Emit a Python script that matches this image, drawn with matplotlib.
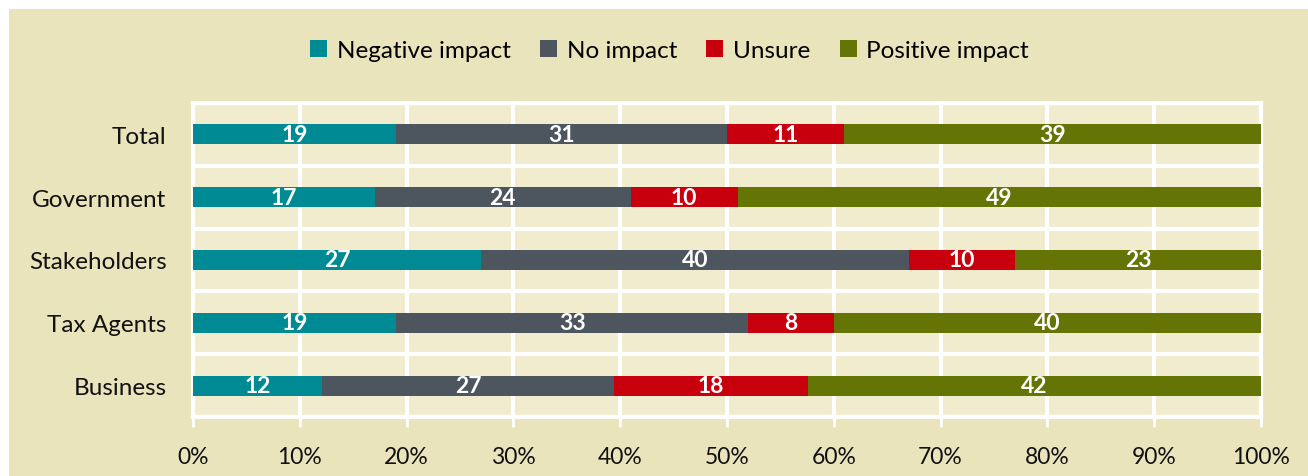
import numpy as np
import matplotlib.pyplot as plt
from matplotlib.patches import Rectangle

plt.rcParams['font.family'] = ['Lato', 'DejaVu Sans']

# === data ===
categories = ['Total', 'Government', 'Stakeholders', 'Tax Agents', 'Business']
series = ['Negative impact', 'No impact', 'Unsure', 'Positive impact']
negative = [19, 17, 27, 19, 12]
no_impact = [31, 24, 40, 33, 27]
unsure = [11, 10, 10, 8, 18]
positive = [39, 49, 23, 40, 42]
colors = ['#008B94', '#4D555E', '#C8000E', '#647405']
xticks = [0, 10, 20, 30, 40, 50, 60, 70, 80, 90, 100]

# === plot ===
fig = plt.figure(figsize=(13.08, 4.77), dpi=100, facecolor='white')
fig.patches.append(Rectangle((9 / 1308, 0), 1, 1 - 10 / 477, transform=fig.transFigure,
                             facecolor='#EAE4BD', edgecolor='none', zorder=-5))
ax = fig.add_axes([193 / 1308, 1 - 418 / 477, 1068 / 1308, 314 / 477])
ax.set_facecolor('#F1ECCE')

vals = np.array([negative, no_impact, unsure, positive], dtype=float)
pct = vals / vals.sum(axis=0) * 100   # rows that don't sum to exactly 100 get stretched
y = np.arange(len(categories))
left = np.zeros(len(categories))
for i, name in enumerate(series):
    ax.barh(y, pct[i], left=left, height=0.32, color=colors[i], label=name, zorder=3)
    for j in range(len(categories)):
        ax.text(left[j] + pct[i][j] / 2, y[j], f'{int(vals[i][j])}',
                ha='center', va='center', color='white',
                fontsize=16.5, fontweight='bold', zorder=4)
    left += pct[i]

ax.set_xlim(0, 100)
ax.set_ylim(len(categories) - 0.5, -0.5)
ax.set_yticks(y)
ax.set_yticklabels(categories, fontsize=17.5, color='#111111')
ax.set_yticks(np.arange(-0.5, len(categories), 1), minor=True)
ax.set_xticks(xticks)
ax.set_xticklabels([f'{t}%' for t in xticks], fontsize=16.5, color='#111111')
ax.tick_params(axis='y', which='both', length=0, pad=19)
ax.tick_params(axis='x', length=7, width=2, color='white', pad=14, direction='out')
ax.grid(axis='x', color='white', linewidth=3, zorder=1)
ax.grid(axis='y', which='minor', color='white', linewidth=3, zorder=1)
ax.set_axisbelow(True)
for s in ax.spines.values():
    s.set_color('white')
    s.set_linewidth(3)

fig.legend(loc='center', bbox_to_anchor=(0.512, 0.893), ncol=4, frameon=False,
           fontsize=17.5, handlelength=0.7, handleheight=0.7, handletextpad=0.4,
           columnspacing=1.2)

plt.savefig('out.png', dpi=100, facecolor='white')
